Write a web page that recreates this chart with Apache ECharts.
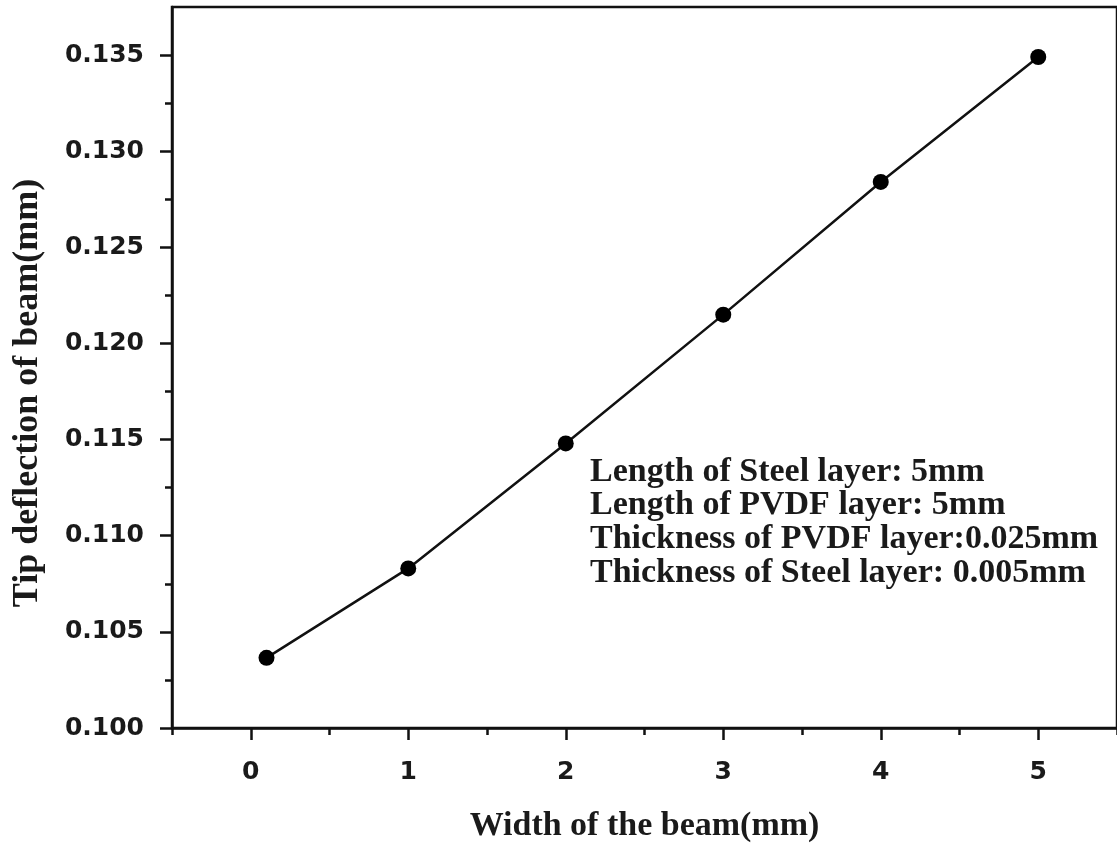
<!DOCTYPE html>
<html>
<head>
<meta charset="utf-8">
<script src="https://cdn.jsdelivr.net/npm/echarts@6/dist/echarts.min.js"></script>
<style>
  html, body { margin: 0; padding: 0; background: #fff; }
  #main { width: 1117px; height: 849px; }
</style>
</head>
<body>
<div id="main"></div>
<script>
// beam width (mm) vs tip deflection (mm)
var widths = [0.1, 1, 2, 3, 4, 5];
var deflections = [0.10365, 0.1083, 0.1148, 0.1215, 0.1284, 0.1349];

var xMajorTicks = [0, 1, 2, 3, 4, 5];
var xMinorTicks = [-0.5, 0.5, 1.5, 2.5, 3.5, 4.5, 5.5];
var yMajorTicks = [0.100, 0.105, 0.110, 0.115, 0.120, 0.125, 0.130, 0.135];
var yMinorTicks = [0.1025, 0.1075, 0.1125, 0.1175, 0.1225, 0.1275, 0.1325];

var noteLines = [
    'Length of Steel layer: 5mm',
    'Length of PVDF layer: 5mm',
    'Thickness of PVDF layer:0.025mm',
    'Thickness of Steel layer: 0.005mm'
];

var chart = echarts.init(document.getElementById('main'), null, { renderer: 'canvas' });

var labelFont = {
    fontFamily: 'DejaVu Sans, Arial, sans-serif',
    fontWeight: 'bold',
    fontSize: 25,
    color: '#1a1a1a'
};
var titleFont = {
    fontFamily: 'Liberation Serif, Times New Roman, serif',
    fontWeight: 'bold',
    fontSize: 34,
    color: '#1a1a1a'
};
var tickStyle = { color: '#111', width: 2.5 };

// notes box + rotated y title (sits a bit below the plot middle in the original)
var graphics = noteLines.map(function (t, i) {
    return {
        type: 'text',
        left: 590,
        top: 455 + i * 33.7,
        style: {
            text: t,
            fontFamily: 'Liberation Serif, Times New Roman, serif',
            fontWeight: 'bold',
            fontSize: 34,
            fill: '#1a1a1a'
        }
    };
});
graphics.push({
    type: 'text',
    x: 28,
    y: 393,
    rotation: Math.PI / 2,
    style: {
        text: 'Tip deflection of beam(mm)',
        fontFamily: 'Liberation Serif, Times New Roman, serif',
        fontWeight: 'bold',
        fontSize: 36,
        fill: '#1a1a1a',
        align: 'center',
        verticalAlign: 'middle'
    }
});

var option = {
    backgroundColor: '#fff',
    animation: false,
    grid: {
        left: 172,
        right: -4,
        top: 7,
        bottom: 121,
        show: true,
        borderColor: '#111',
        borderWidth: 2.5
    },
    xAxis: [{
        type: 'value',
        min: -0.5,
        max: 5.5,
        name: 'Width of the beam(mm)',
        nameLocation: 'middle',
        nameGap: 81,
        nameTextStyle: titleFont,
        splitLine: { show: false },
        axisLine: { onZero: false, lineStyle: { color: '#111', width: 2.5 } },
        axisTick: { customValues: xMajorTicks, length: 12, lineStyle: tickStyle },
        axisLabel: Object.assign({ customValues: xMajorTicks, margin: 32 }, labelFont)
    }, {
        type: 'value',
        min: -0.5,
        max: 5.5,
        position: 'bottom',
        splitLine: { show: false },
        axisLine: { show: false, onZero: false },
        axisTick: { customValues: xMinorTicks, length: 7, lineStyle: tickStyle },
        axisLabel: { show: false }
    }],
    yAxis: [{
        type: 'value',
        min: 0.1,
        max: 0.1375,
        splitLine: { show: false },
        axisLine: { onZero: false, lineStyle: { color: '#111', width: 2.5 } },
        axisTick: { customValues: yMajorTicks, length: 12, lineStyle: tickStyle },
        axisLabel: Object.assign({
            customValues: yMajorTicks,
            margin: 28,
            formatter: function (v) { return v.toFixed(3); }
        }, labelFont)
    }, {
        type: 'value',
        min: 0.1,
        max: 0.1375,
        position: 'left',
        offset: 0,
        splitLine: { show: false },
        axisLine: { show: false, onZero: false },
        axisTick: { customValues: yMinorTicks, length: 7, lineStyle: tickStyle },
        axisLabel: { show: false }
    }],
    graphic: graphics,
    series: [{
        type: 'line',
        xAxisIndex: 0,
        yAxisIndex: 0,
        data: widths.map(function (w, i) { return [w, deflections[i]]; }),
        symbol: 'circle',
        symbolSize: 16,
        itemStyle: { color: '#000' },
        lineStyle: { color: '#111', width: 2.5 }
    }]
};

chart.setOption(option);
</script>
</body>
</html>
